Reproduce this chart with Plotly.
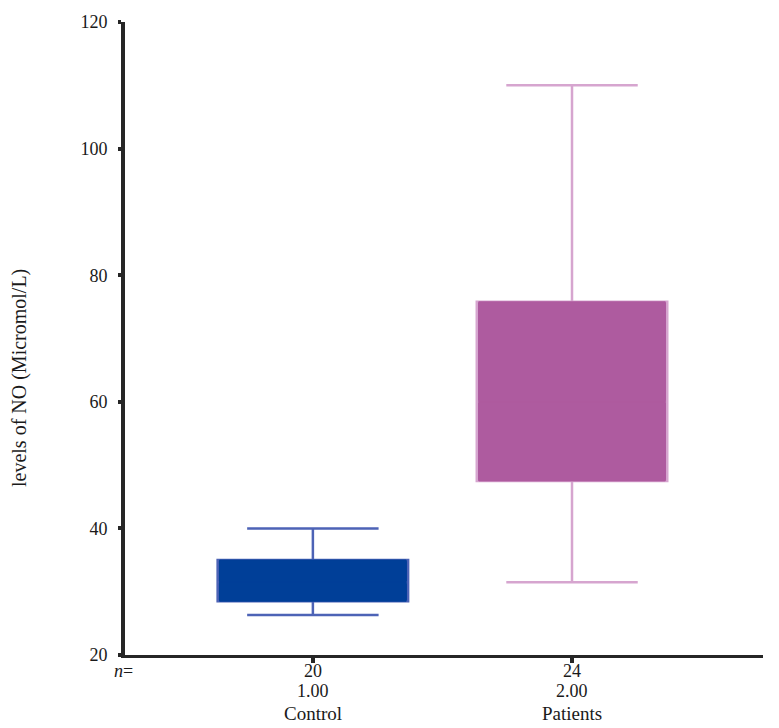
import plotly.graph_objects as go

GROUPS = ["Control", "Patients"]
GROUP_CODES = [1, 2]
N_COUNTS = [20, 24]
LOWER_WHISKER = [26.3, 31.5]
Q1 = [28.5, 47.5]
MEDIAN = [31.5, 60.0]
Q3 = [35.0, 75.8]
UPPER_WHISKER = [40.0, 110.0]
Y_TICKS = [20, 40, 60, 80, 100, 120]

FILL = ["#003f98", "#ae5b9f"]
EDGE = ["#4d63b6", "#d6a5cf"]
SERIF = "Liberation Serif, DejaVu Serif, serif"
INK = "#1a1a1a"

fig = go.Figure()

for i, g in enumerate(GROUPS):
    # whiskers + light outline
    fig.add_trace(go.Box(
        x=[GROUP_CODES[i]], q1=[Q1[i]], median=[MEDIAN[i]], q3=[Q3[i]],
        lowerfence=[LOWER_WHISKER[i]], upperfence=[UPPER_WHISKER[i]],
        width=0.735, whiskerwidth=0.69,
        fillcolor=FILL[i], line=dict(color=EDGE[i], width=2.5),
        boxpoints=False, hoverinfo="skip", name=g, showlegend=False))
    # solid body covering the median line
    fig.add_trace(go.Box(
        x=[GROUP_CODES[i]], q1=[Q1[i]], median=[MEDIAN[i]], q3=[Q3[i]],
        lowerfence=[Q1[i]], upperfence=[Q3[i]],
        width=0.72, whiskerwidth=0,
        fillcolor=FILL[i], line=dict(color=FILL[i], width=1),
        boxpoints=False, hoverinfo="skip", name=g, showlegend=False))

fig.update_xaxes(range=[0.275, 2.737], tickvals=GROUP_CODES, showticklabels=False,
                 showline=True, linecolor="#262626", linewidth=3,
                 ticks="outside", ticklen=5, tickwidth=4, tickcolor="#262626",
                 showgrid=False, zeroline=False)
fig.update_yaxes(range=[20, 120], tickvals=Y_TICKS,
                 showline=True, linecolor="#262626", linewidth=4,
                 ticks="outside", ticklen=3, tickwidth=4, tickcolor="#262626",
                 ticklabelstandoff=7,
                 showgrid=False, zeroline=False,
                 tickfont=dict(family=SERIF, size=18, color=INK))

# category labels: n, group code, group name (three tight rows)
rows = [[str(n) for n in N_COUNTS], [f"{c:.2f}" for c in GROUP_CODES], GROUPS]
for shift, size, texts in zip([-16, -36, -58], [18, 18, 19], rows):
    for xc, t in zip(GROUP_CODES, texts):
        fig.add_annotation(text=t, x=xc, xref="x", yref="paper", y=0, yshift=shift,
                           xanchor="center", yanchor="middle", showarrow=False,
                           font=dict(family=SERIF, size=size, color=INK))

# y title placed as annotation (it sits lower than the axis centre)
fig.add_annotation(text="levels of NO (Micromol/L)", xref="paper", yref="paper",
                   x=0, y=0.4376, xshift=-105, textangle=-90, showarrow=False,
                   xanchor="center", yanchor="middle",
                   font=dict(family=SERIF, size=20, color=INK))

fig.add_annotation(text="<i>n</i>=", xref="paper", yref="paper", x=0, y=0,
                   xanchor="center", yanchor="middle", yshift=-16, xshift=-2,
                   showarrow=False, font=dict(family=SERIF, size=18, color=INK))

fig.update_layout(width=779, height=728, template="plotly_white",
                  plot_bgcolor="white", paper_bgcolor="white",
                  margin=dict(l=117, r=24, t=14, b=81, autoexpand=False),
                  boxmode="overlay")

fig.write_html("out.html")
